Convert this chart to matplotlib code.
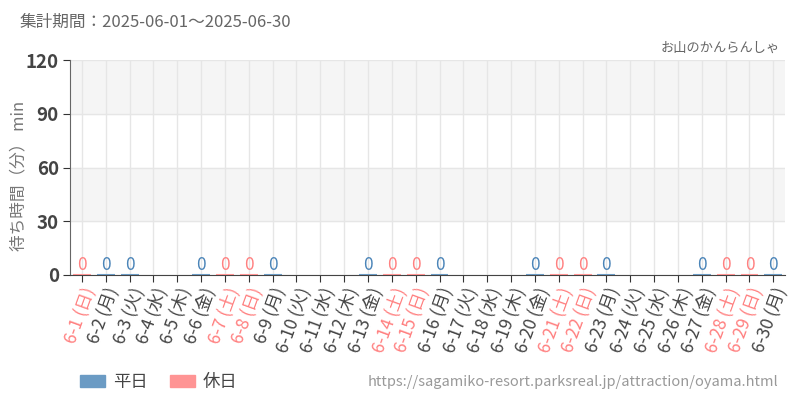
import matplotlib
matplotlib.use("Agg")
import matplotlib.pyplot as plt
import matplotlib.patches as mpatches

plt.rcParams['font.family'] = ['Noto Sans CJK JP', 'DejaVu Sans']

# data for June 2025 (None = no data)
days = list(range(1, 31))
weekdays = ['日', '月', '火', '水', '木', '金', '土'] * 5
weekdays = weekdays[:30]
waits = [0, 0, 0, None, None, 0, 0, 0, 0, None,
         None, None, 0, 0, 0, 0, None, None, None, 0,
         0, 0, 0, None, None, None, 0, 0, 0, 0]
yticks = [0, 30, 60, 90, 120]

BLUE = '#6b9bc4'
BLUE_TXT = '#4a84b8'
PINK = '#ff9494'
PINK_TXT = '#ff8080'
TEXT = '#444444'

fig = plt.figure(figsize=(8, 4), dpi=100)
ax = fig.add_axes([0.0875, 0.3125, 0.894, 0.5375])

# alternating bands
for i in range(len(yticks) - 1):
    if i % 2 == 1:
        ax.axhspan(yticks[i], yticks[i + 1], color='#f5f5f5', zorder=0)

holiday = [w in ('土', '日') for w in weekdays]
for i, v in enumerate(waits):
    if v is None:
        continue
    c = PINK if holiday[i] else BLUE
    tc = PINK_TXT if holiday[i] else BLUE_TXT
    ax.bar(i, v, width=0.75, color=c, edgecolor=c, linewidth=1.5, zorder=3)
    ax.text(i, v + 0.6, str(v), ha='center', va='bottom', fontsize=12.5,
            color=tc, zorder=4)

ax.set_xlim(-0.5, 29.5)
ax.set_ylim(0, 120)
ax.set_yticks(yticks)
ax.set_yticklabels([str(t) for t in yticks], fontsize=13.5, color=TEXT, fontweight='bold')
ax.set_xticks(range(30))
labels = ['6-%d (%s)' % (d, w) for d, w in zip(days, weekdays)]
ax.set_xticklabels(labels, rotation=70, ha='right', rotation_mode='anchor', fontsize=12.5)
for lab, h in zip(ax.get_xticklabels(), holiday):
    lab.set_color(PINK_TXT if h else TEXT)

ax.grid(True, color='#e6e6e6', linewidth=1, zorder=1)
ax.set_axisbelow(True)
for s in ['top', 'right']:
    ax.spines[s].set_visible(False)
ax.spines['left'].set_color('#666666')
ax.spines['bottom'].set_color('#444444')
ax.tick_params(axis='both', direction='out', length=5, color='#333333')
ax.tick_params(axis='x', pad=2)
ax.tick_params(axis='y', pad=3)

ax.set_ylabel('待ち時間（分） min', fontsize=12, color='#777777')
ax.yaxis.set_label_coords(-0.059, 0.46)

fig.text(0.025, 0.945, '集計期間：2025-06-01～2025-06-30', fontsize=12, color='#666666', va='center')
fig.text(0.975, 0.88, 'お山のかんらんしゃ', fontsize=9.5, color='#666666', ha='right', va='center')

handles = [mpatches.Patch(color=BLUE, label='平日'), mpatches.Patch(color=PINK, label='休日')]
fig.legend(handles=handles, loc='center left', bbox_to_anchor=(0.08, 0.045), ncol=2,
           frameon=False, fontsize=12.5, handlelength=1.45, handleheight=0.7,
           handletextpad=0.45, columnspacing=1.3, labelcolor='#444444')
fig.text(0.973, 0.045, 'https://sagamiko-resort.parksreal.jp/attraction/oyama.html',
         fontsize=10.5, color='#999999', ha='right', va='center')

fig.savefig('out.png', dpi=100)
